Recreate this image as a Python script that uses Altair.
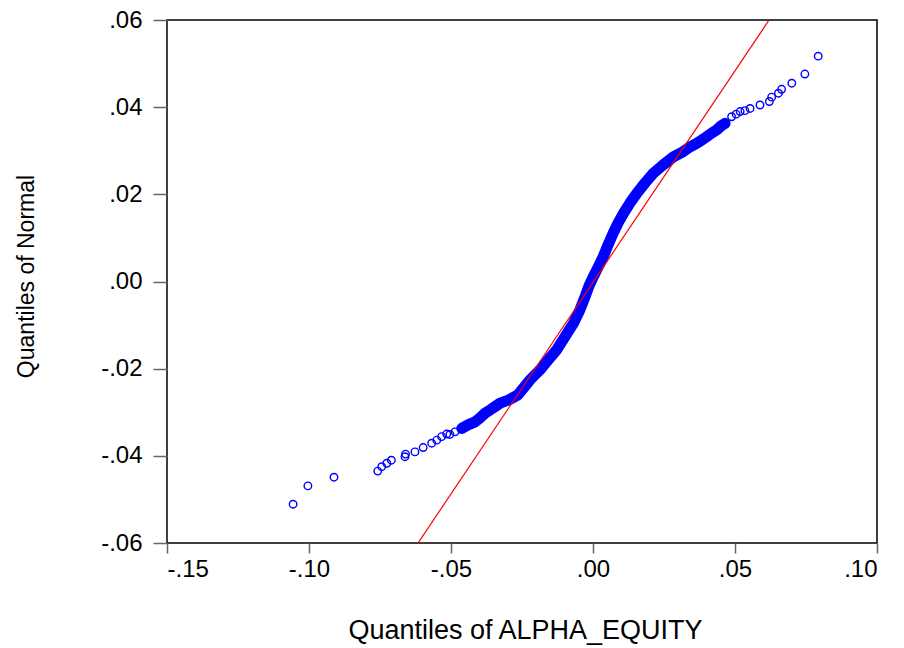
import altair as alt
import pandas as pd

qx = [-0.1056, -0.1004, -0.0912, -0.0758, -0.0744, -0.0726, -0.0710, -0.0662, -0.0660,
      -0.0627, -0.0598, -0.0568, -0.0550, -0.0533, -0.0515, -0.0504, -0.0486, -0.0462,
      -0.0440, -0.0415, -0.0398, -0.0380, -0.0363, -0.0345, -0.0327, -0.0298, -0.0264,
      -0.0222, -0.0187, -0.0158, -0.0128, -0.0099, -0.0069, -0.0046, -0.0028, -0.0014,
      0.0001, 0.0018, 0.0036, 0.0053, 0.0071, 0.0088, 0.0107, 0.0130, 0.0154, 0.0183,
      0.0212, 0.0246, 0.0283, 0.0318, 0.0342, 0.0365, 0.0384, 0.0400, 0.0419, 0.0436,
      0.0451, 0.0465, 0.0488, 0.0504, 0.0518, 0.0535, 0.0553, 0.0588, 0.0621, 0.0629,
      0.0653, 0.0664, 0.0700, 0.0746, 0.0793]
qy = [-0.0511, -0.0469, -0.0449, -0.0435, -0.0425, -0.0417, -0.0410, -0.0402, -0.0396,
      -0.0391, -0.0381, -0.0371, -0.0364, -0.0356, -0.0350, -0.0351, -0.0345, -0.0337,
      -0.0329, -0.0322, -0.0313, -0.0302, -0.0295, -0.0287, -0.0279, -0.0272, -0.0260,
      -0.0226, -0.0203, -0.0180, -0.0157, -0.0127, -0.0096, -0.0065, -0.0035, -0.0010,
      0.0011, 0.0033, 0.0057, 0.0084, 0.0111, 0.0134, 0.0156, 0.0180, 0.0202, 0.0226,
      0.0248, 0.0267, 0.0286, 0.0298, 0.0309, 0.0317, 0.0325, 0.0332, 0.0341, 0.0348,
      0.0357, 0.0363, 0.0378, 0.0384, 0.0390, 0.0392, 0.0397, 0.0405, 0.0413, 0.0423,
      0.0432, 0.0441, 0.0455, 0.0476, 0.0517]
# the dense central stretch (many overlapping observations)
dense_from = -0.0470
dense_to = 0.0470

# reference line endpoints (clipped at the frame)
line_x = [-0.0616, 0.0620]
line_y = [-0.0600, 0.0600]

x_ticks = [-0.15, -0.10, -0.05, 0.0, 0.05, 0.10]
y_ticks = [-0.06, -0.04, -0.02, 0.0, 0.02, 0.04, 0.06]

pts = pd.DataFrame({"x": qx, "y": qy})
dense = pts[(pts.x >= dense_from) & (pts.x <= dense_to)]
ref = pd.DataFrame({"x": line_x, "y": line_y})

lbl = "(datum.value < -0.00001 ? '-' : '') + replace(format(abs(datum.value), '.2f'), '0.', '.')"
FONT = "Liberation Sans"

xenc = alt.X("x:Q", scale=alt.Scale(domain=[-0.15, 0.10], nice=False, zero=False),
             axis=alt.Axis(values=x_ticks, labelExpr=lbl, title="Quantiles of ALPHA_EQUITY",
                           grid=False, domain=False, tickSize=10, tickColor="#666666",
                           tickWidth=1.5, labelFontSize=24, labelFont=FONT, labelColor="black",
                           labelPadding=4, titleFont=FONT, titleFontSize=27, titleFontWeight="normal",
                           titleColor="black", titleX=358, titleY=95, titleBaseline="alphabetic",
                           titleAlign="center", titleAnchor="start"))
yenc = alt.Y("y:Q", scale=alt.Scale(domain=[-0.06, 0.06], nice=False, zero=False),
             axis=alt.Axis(values=y_ticks, labelExpr=lbl, title="Quantiles of Normal",
                           grid=False, domain=False, tickSize=14, tickColor="#666666",
                           tickWidth=1.5, labelFontSize=24, labelFont=FONT, labelColor="black",
                           labelPadding=11, titleFont=FONT, titleFontSize=23, titleFontWeight="normal",
                           titleColor="black", titleX=-134, titleY=256, titleAngle=-90,
                           titleBaseline="alphabetic", titleAlign="center", titleAnchor="start"))

band = alt.Chart(dense).mark_line(color="#0000FF", strokeWidth=11, strokeCap="round",
                                  strokeJoin="round").encode(x=xenc, y=yenc, order="x:Q")
circles = alt.Chart(pts).mark_point(shape="circle", filled=False, color="#0000FF",
                                    size=56, strokeWidth=1.4, opacity=1).encode(x=xenc, y=yenc)
refline = alt.Chart(ref).mark_line(color="#FF0000", strokeWidth=1.2, clip=True).encode(x=xenc, y=yenc)

chart = alt.layer(band, circles, refline).properties(
    width=710, height=523,
    autosize=alt.AutoSizeParams(type="none"),
    padding={"left": 167, "top": 20, "right": 27, "bottom": 105},
    background="white",
).configure_view(stroke="black", strokeWidth=1.5)

chart.save("out.html", embed_options={"renderer": "svg", "actions": False})
